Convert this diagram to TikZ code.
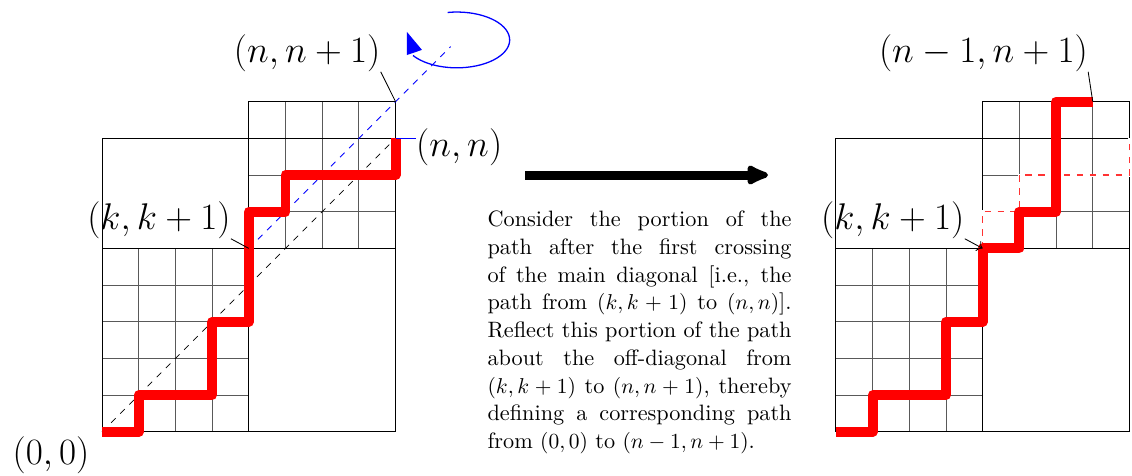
\documentclass[tikz,border=0pt]{standalone}
\usepackage{amsmath}
\usepackage{tikz}
\usetikzlibrary{arrows.meta, positioning, calc}
\tikzset{
    grade/.style    = {black!65, line width=0.4pt, step=0.6cm},
    borda/.style    = {black, line width=0.45pt},
    caminho/.style  = {red, line width=4.6pt, line join=round},
    reflexo/.style  = {red!80, dashed, line width=0.6pt},
    apaga/.style    = {white, line width=1.4pt},
    rotulo/.style   = {font=\LARGE, inner sep=0pt},
    lig/.style      = {black, line width=0.4pt},
    diag/.style     = {black, dashed, line width=0.4pt},
    antidiag/.style = {blue, dashed, line width=0.4pt},
    seta/.style     = {-{Latex[length=13pt, width=11pt, round]}, line width=4.2pt},
    texto/.style    = {text width=4.97cm, align=justify, inner sep=0pt, anchor=north,
                       font=\fontsize{10.35}{12.9}\selectfont},
}

\begin{document}
\begin{tikzpicture}[x=0.6cm, y=0.6cm]
    \useasboundingbox (-2.78,-1.2) rectangle (28.07,11.77);
    % reticulado da esquerda
    \draw[grade] (0,0) grid (4,5);
    \draw[grade] (4,5) grid (8,9);
    \draw[borda] (0,0) -- (8,0) -- (8,9) -- (4,9) -- (4,0)
                 (0,0) -- (0,8) -- (8,8)  (0,5) -- (8,5);
    \coordinate (Lo) at (0,0);
    \coordinate (Lk) at (4,5);
    \coordinate (Ln) at (8,8);
    \coordinate (Ln1) at (8,9);
    \coordinate (Lfim) at (9.5,10.5);
    % diagonais
    \draw[diag] (Lo) -- (Ln);
    \draw[antidiag] (Lk) -- (Lfim);
    % caminho original
    \draw[caminho] (0,0) -| (1,1) -| (3,3) -| (4,6) -| (5,7) -| (8,8);
    % rotacao em torno da diagonal
    \draw[blue, line width=0.6pt] (9.42,11.43) arc[start angle=100, end angle=-146, x radius=1.44, y radius=0.76];
    \fill[blue] (8.31,10.90) -- (8.31,10.27) -- (8.72,10.41) -- cycle;
    % rotulos
    \node[rotulo] (Lnn1) at (5.59,10.33) {$(n,n+1)$};
    \draw[lig] (Lnn1.south east) -- (Ln1);
    \node[rotulo, anchor=west] (Lnn) at (8.55,7.75) {$(n,n)$};
    \draw[blue, line width=0.4pt] (Ln) -- (Ln -| Lnn.west);
    \node[rotulo] (Lkk) at (1.55,5.78) {$(k,k+1)$};
    \draw[lig] (Lkk.south east) -- (Lk);
    \node[rotulo] (Loo) at (-1.39,-0.63) {$(0,0)$};

    % seta e texto
    \coordinate (setaA) at (11.53,7);
    \coordinate (setaB) at (18.15,7);
    \draw[seta] (setaA) -- (setaB);
    \node[texto] (expl) at (14.65,6.03) {Consider the portion of the\linebreak
        path after the first crossing\linebreak
        of the main diagonal [i.e., the\linebreak
        path from $(k,k+1)$ to $(n,n)$].\linebreak
        Reflect this portion of the path\linebreak
        about the off-diagonal from\linebreak
        $(k,k+1)$ to $(n,n+1)$, thereby\linebreak
        defining a corresponding path\linebreak
        from $(0,0)$ to $(n-1,n+1)$.};

    % reticulado da direita
    \begin{scope}[shift={(20,0)}]
        \draw[grade] (0,0) grid (4,5);
        \draw[grade] (4,5) grid (8,9);
        \draw[borda] (0,0) -- (8,0) -- (8,9) -- (4,9) -- (4,0)
                     (0,0) -- (0,8) -- (8,8)  (0,5) -- (8,5);
        \coordinate (Rk) at (4,5);
        \coordinate (Rn1) at (7,9);
        % parte original, tracejada
        \draw[apaga] (4,5) |- (5,6) |- (8,7) -- (8,8);
        \draw[reflexo] (4,5) |- (5,6) |- (8,7) -- (8,8);
        % caminho refletido
        \draw[caminho] (0,0) -| (1,1) -| (3,3) -| (4,5) -| (5,6) -| (6,9) -- (7,9);
        % rotulos
        \node[rotulo] (Rnn1) at (4.02,10.33) {$(n-1,n+1)$};
        \draw[lig] (Rnn1.south east) -- (Rn1);
        \node[rotulo] (Rkk) at (1.55,5.78) {$(k,k+1)$};
        \draw[lig, ->] (Rkk.south east) -- (Rk);
    \end{scope}
\end{tikzpicture}
\end{document}
